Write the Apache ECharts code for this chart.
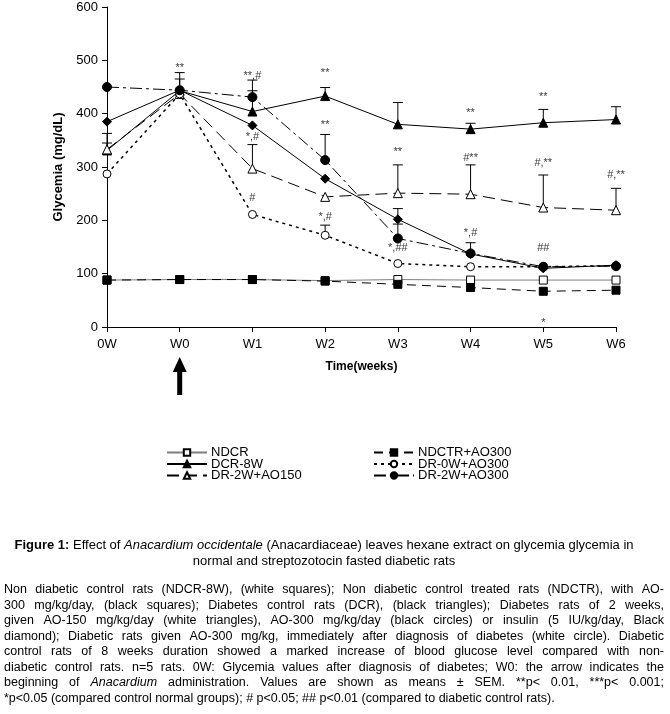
<!DOCTYPE html>
<html><head><meta charset="utf-8">
<script src="https://cdn.jsdelivr.net/npm/echarts@6/dist/echarts.min.js"></script>
<style>html,body{margin:0;padding:0;background:#fff}#c{width:670px;height:714px}</style>
</head><body><div id="c"></div>
<script>
// ---------- DATA ----------
const categories = ['0W','W0','W1','W2','W3','W4','W5','W6'];
const ndcr        = [88, 89, 89, 87, 89, 88, 88, 88];
const ndctr       = [88, 89, 89, 86, 80, 74, 67, 69];
const dcr         = [331, 443, 404, 433, 380, 371, 383, 389];
const dr2wAo150   = [333, 437, 297, 244, 251, 249, 224, 219];
const dr0wAo300   = [287, 437, 211, 172, 119, 113, 113, 115];
const dr2wAo300   = [450, 444, 431, 313, 166, 138, 113, 114];
const dr2wInsulin = [385, 444, 378, 278, 202, 137, 110, 116];
// upper SEM (one-sided error bars)
const dcrSem         = [32, 34, 39, 16, 41, 11, 25, 24];
const dr2wAo150Sem   = [12, null, 45, null, 53, 55, 61, 41];
const dr0wAo300Sem   = [null, null, null, 19, null, null, null, null];
const dr2wAo300Sem   = [null, 21, 32, 48, 27, 20, null, null];
const dr2wInsulinSem = [null, null, null, null, 20, null, null, null];
// significance annotations
const annotX    = ['W0','W1','W1','W1','W2','W2','W2','W3','W3','W4','W4','W4','W5','W5','W5','W5','W6'];
const annotY    = [485, 471, 357, 241, 477, 379, 206, 329, 148, 401, 316, 177, 432, 307, 148, 7, 285];
const annotText = ['**','**,#','*,#','#','**','**','*,#','**','*,##','**','#**','*,#','**','#,**','##','*','#,**'];
const yTickMin = 0, yTickMax = 600, yTickStep = 100;

const captionLine1 = [['b','Figure 1:'],['n',' Effect of '],['i','Anacardium occidentale'],['n',' (Anacardiaceae) leaves hexane extract on glycemia glycemia in']];
const captionLine2 = 'normal and streptozotocin fasted diabetic rats';
const paragraph = [
 'Non diabetic control rats (NDCR-8W), (white squares); Non diabetic control treated rats (NDCTR), with AO-',
 '300 mg/kg/day, (black squares); Diabetes control rats (DCR), (black triangles); Diabetes rats of 2 weeks,',
 'given AO-150 mg/kg/day (white triangles), AO-300 mg/kg/day (black circles) or insulin (5 IU/kg/day, Black',
 'diamond); Diabetic rats given AO-300 mg/kg, immediately after diagnosis of diabetes (white circle). Diabetic',
 'control rats of 8 weeks duration showed a marked increase of blood glucose level compared with non-',
 'diabetic control rats. n=5 rats. 0W: Glycemia values after diagnosis of diabetes; W0: the arrow indicates the',
 'beginning of Anacardium administration. Values are shown as means \u00b1 SEM. **p< 0.01, ***p< 0.001;',
 '*p<0.05 (compared control normal groups); # p<0.05; ## p<0.01 (compared to diabetic control rats).'
];
const italicWords = ['Anacardium'];

// ---------- STYLE ----------
const FONT = "'Liberation Sans', Arial, Helvetica, sans-serif";
const NARROW = "'Liberation Sans Narrow', 'Arial Narrow', 'Liberation Sans', Arial, sans-serif";

const ctx = document.createElement('canvas').getContext('2d');
function tw(text, font){ ctx.font = font; return ctx.measureText(text).width; }

function errSeries(mean, sem){
  const data = [];
  mean.forEach((m,i)=>{ if(sem[i]!=null) data.push([i, m, m+sem[i]]); });
  return {
    type:'custom', silent:true, z:1, data,
    encode:{x:0, y:[1,2]},
    renderItem:(params, api)=>{
      const x = api.value(0);
      const p0 = api.coord([x, api.value(1)]);
      const p1 = api.coord([x, api.value(2)]);
      const w = 5;
      return {type:'group', children:[
        {type:'line', shape:{x1:p0[0],y1:p0[1],x2:p1[0],y2:p1[1]}, style:{stroke:'#000', lineWidth:1}},
        {type:'line', shape:{x1:p1[0]-w,y1:p1[1],x2:p1[0]+w,y2:p1[1]}, style:{stroke:'#000', lineWidth:1}}
      ]};
    }
  };
}

function lineSeries(name, data, symbol, size, fill, lineType, lineColor, lineWidth){
  return {
    name, type:'line', data, symbol, symbolSize:size, z:3,
    itemStyle:{color:fill, borderColor:'#000', borderWidth:1},
    lineStyle:{color:lineColor||'#000', width:lineWidth||1, type:lineType},
    emphasis:{disabled:true}, animation:false
  };
}

// caption
const capSizeBase = 12;
let capNat = 0;
captionLine1.forEach(([s,t])=>{
  const f = (s==='b'?'bold ':'') + (s==='i'?'italic ':'') + capSizeBase + 'px ' + FONT;
  capNat += tw(t, f);
});
let capSize = Math.max(10.5, Math.min(13, capSizeBase * 632 / capNat));
const capFont = capSize.toFixed(2) + 'px ' + FONT;
const graphics = [];
graphics.push({
  type:'text', x:324, y:545,
  style:{
    text: captionLine1.map(([s,t])=>'{'+s+'|'+t+'}').join(''),
    textAlign:'center', textVerticalAlign:'middle', fill:'#000',
    font: capFont,
    rich:{
      n:{font:capFont, fill:'#000'},
      b:{font:'bold '+capFont, fill:'#000'},
      i:{font:'italic '+capFont, fill:'#000'}
    }
  }
});
graphics.push({type:'text', x:324, y:561, style:{text:captionLine2, font:capFont, fill:'#000', textAlign:'center', textVerticalAlign:'middle'}});

// paragraph (justified)
const parLeft = 4, parWidth = 660, parTop = 590, parStep = 15.5;
let maxNat = 0;
const pBase = 12;
paragraph.forEach(line=>{
  maxNat = Math.max(maxNat, tw(line, pBase+'px '+FONT));
});
const pSize = Math.max(10, Math.min(12.5, pBase * 0.97 * parWidth / maxNat));
const pFont = pSize.toFixed(2)+'px '+FONT;
const pFontI = 'italic '+pFont;
paragraph.forEach((line, li)=>{
  const words = line.split(/\s+/);
  let nat = 0;
  words.forEach(w=>{ nat += tw(w, italicWords.includes(w)?pFontI:pFont); });
  const last = li === paragraph.length-1;
  const gap = last ? tw(' ', pFont) : (parWidth - nat)/(words.length-1);
  const text = words.map(w=>'{'+(italicWords.includes(w)?'i':'n')+'|'+w+'}').join('{g| }');
  graphics.push({
    type:'text', x:parLeft, y:parTop + li*parStep,
    style:{
      text, font:pFont, fill:'#000', textVerticalAlign:'middle',
      rich:{
        n:{font:pFont, fill:'#000'},
        i:{font:pFontI, fill:'#000'},
        g:{font:pFont, width:gap}
      }
    }
  });
});

const chart = echarts.init(document.getElementById('c'), null, {renderer:'canvas'});
const legendCommon = {
  orient:'vertical', top:446, itemWidth:40, itemHeight:8, itemGap:-1.5, padding:0,
  selectedMode:false,
  textStyle:{fontSize:13, fontFamily:FONT, color:'#000', lineHeight:11, padding:[0,0,0,-1]}
};
chart.setOption({
  animation:false,
  backgroundColor:'#fff',
  grid:{left:107, right:54, top:7, bottom:387, containLabel:false},
  legend:[
    Object.assign({data:['NDCR','DCR-8W','DR-2W+AO150'], left:166}, legendCommon),
    Object.assign({data:['NDCTR+AO300','DR-0W+AO300','DR-2W+AO300'], left:373}, legendCommon)
  ],
  xAxis:{
    type:'category', data:categories, boundaryGap:false,
    axisLine:{lineStyle:{color:'#000', width:1}},
    axisTick:{show:true, length:5, alignWithLabel:true, lineStyle:{color:'#000'}},
    axisLabel:{color:'#000', fontSize:13, fontFamily:NARROW, margin:11},
    splitLine:{show:false},
    name:'Time(weeks)', nameLocation:'middle', nameGap:34,
    nameTextStyle:{fontWeight:'bold', fontSize:12, fontFamily:NARROW, color:'#000'}
  },
  yAxis:{
    type:'value', min:yTickMin, max:yTickMax, interval:yTickStep,
    axisLine:{show:true, lineStyle:{color:'#000', width:1}},
    axisTick:{show:true, length:5, lineStyle:{color:'#000'}},
    axisLabel:{color:'#000', fontSize:13, fontFamily:FONT, margin:9},
    splitLine:{show:false},
    name:'Glycemia (mg/dL)', nameLocation:'middle', nameRotate:90, nameGap:37,
    nameTextStyle:{fontWeight:'bold', fontSize:13, fontFamily:FONT, color:'#000'}
  },
  series:[
    errSeries(dcr, dcrSem),
    errSeries(dr2wAo150, dr2wAo150Sem),
    errSeries(dr0wAo300, dr0wAo300Sem),
    errSeries(dr2wAo300, dr2wAo300Sem),
    errSeries(dr2wInsulin, dr2wInsulinSem),
    lineSeries('NDCR', ndcr, 'rect', 8, '#fff', 'solid', '#7f7f7f', 1),
    lineSeries('NDCTR+AO300', ndctr, 'rect', 8, '#000', [9,6], '#000', 1),
    lineSeries('DCR-8W', dcr, 'triangle', 9, '#000', 'solid', '#000', 1),
    lineSeries('DR-2W+AO150', dr2wAo150, 'triangle', 9, '#fff', [12,6], '#000', 1),
    lineSeries('DR-0W+AO300', dr0wAo300, 'circle', 8, '#fff', [3,4], '#000', 1.5),
    lineSeries('DR-2W+AO300', dr2wAo300, 'circle', 9, '#000', [12,4,3,4], '#000', 1),
    lineSeries('DR-2W+Insulin', dr2wInsulin, 'diamond', 9, '#000', 'solid', '#000', 1),
    {
      type:'scatter', symbolSize:0, silent:true, z:4,
      data: annotX.map((x,i)=>[x, annotY[i]]),
      label:{show:true, position:'inside', color:'#000', fontSize:11, fontFamily:FONT,
        formatter:(p)=>annotText[p.dataIndex]}
    }
  ],
  graphic: graphics
});

// arrow under W0
const ax = chart.convertToPixel({xAxisIndex:0}, 'W0');
graphics.push({
  type:'polygon',
  shape:{points:[[ax,357],[ax-7,372],[ax-2.5,372],[ax-2.5,395],[ax+2.5,395],[ax+2.5,372],[ax+7,372]]},
  style:{fill:'#000'}
});
chart.setOption({graphic: graphics});
</script></body></html>
